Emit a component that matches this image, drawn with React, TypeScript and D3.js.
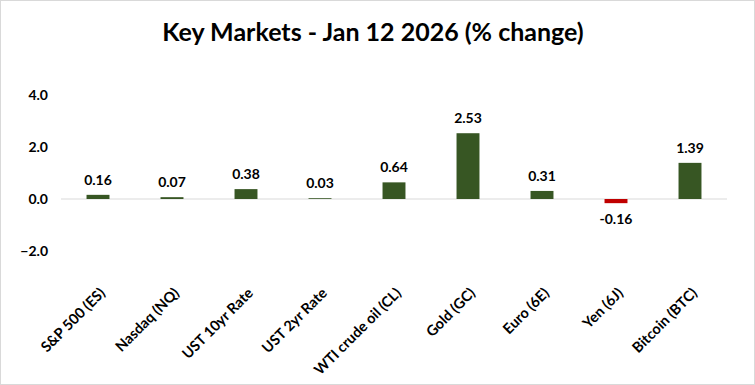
import React from 'react';
import * as d3 from 'd3';

const categories = [
  'S&P 500 (ES)',
  'Nasdaq (NQ)',
  'UST 10yr Rate',
  'UST 2yr Rate',
  'WTI crude oil (CL)',
  'Gold (GC)',
  'Euro (6E)',
  'Yen (6J)',
  'Bitcoin (BTC)',
];
const changes = [0.16, 0.07, 0.38, 0.03, 0.64, 2.53, 0.31, -0.16, 1.39];
const yTicks = [-2, 0, 2, 4];

const width = 755;
const height = 385;
const font = 'Lato, "Open Sans", sans-serif';

const App = () => {
  const x = d3.scaleBand<string>()
    .domain(categories)
    .range([61, 727])
    .paddingInner(0.69)
    .paddingOuter(0.345);

  const y = d3.scaleLinear()
    .domain([-2, 4])
    .range([251, 95]);

  const fmt = d3.format('.1f');

  return (
    <svg
      width={width}
      height={height}
      style={{ position: 'absolute', left: 0, top: 0, background: '#fff' }}
    >
      <rect x={0.5} y={0.5} width={width - 1} height={height - 1} fill="#fff" stroke="#d9d9d9" />
      <text
        x={373}
        y={41}
        textAnchor="middle"
        fontFamily={font}
        fontWeight="bold"
        fontSize={25}
        fill="#000"
      >
        Key Markets - Jan 12 2026 (% change)
      </text>

      {/* y axis labels */}
      {yTicks.map(t => (
        <text
          key={t}
          x={48}
          y={y(t)}
          dy="0.35em"
          textAnchor="end"
          fontFamily={font}
          fontWeight="bold"
          fontSize={14}
          fill="#000"
        >
          {fmt(t)}
        </text>
      ))}

      {/* zero line */}
      <line x1={61} x2={727} y1={y(0)} y2={y(0)} stroke="#d9d9d9" strokeWidth={1} />

      {/* bars */}
      {categories.map((c, i) => {
        const v = changes[i];
        const top = y(Math.max(0, v));
        const h = Math.abs(y(v) - y(0));
        return (
          <rect
            key={c}
            x={x(c)}
            y={top}
            width={x.bandwidth()}
            height={h}
            fill={v < 0 ? '#c00000' : '#375623'}
          />
        );
      })}

      {/* data labels */}
      {categories.map((c, i) => {
        const v = changes[i];
        const cx = (x(c) ?? 0) + x.bandwidth() / 2;
        const ly = v < 0 ? y(v) + 21 : y(v) - 10;
        return (
          <text
            key={c}
            x={cx}
            y={ly}
            textAnchor="middle"
            fontFamily={font}
            fontWeight="bold"
            fontSize={14}
            fill="#000"
          >
            {v.toFixed(2)}
          </text>
        );
      })}

      {/* category labels */}
      {categories.map(c => {
        const cx = (x(c) ?? 0) + x.bandwidth() / 2 + 8;
        const cy = 294;
        return (
          <text
            key={c}
            transform={`translate(${cx},${cy}) rotate(-45)`}
            textAnchor="end"
            fontFamily={font}
            fontWeight="bold"
            fontSize={14.5}
            fill="#000"
          >
            {c}
          </text>
        );
      })}
    </svg>
  );
};

export default App;
